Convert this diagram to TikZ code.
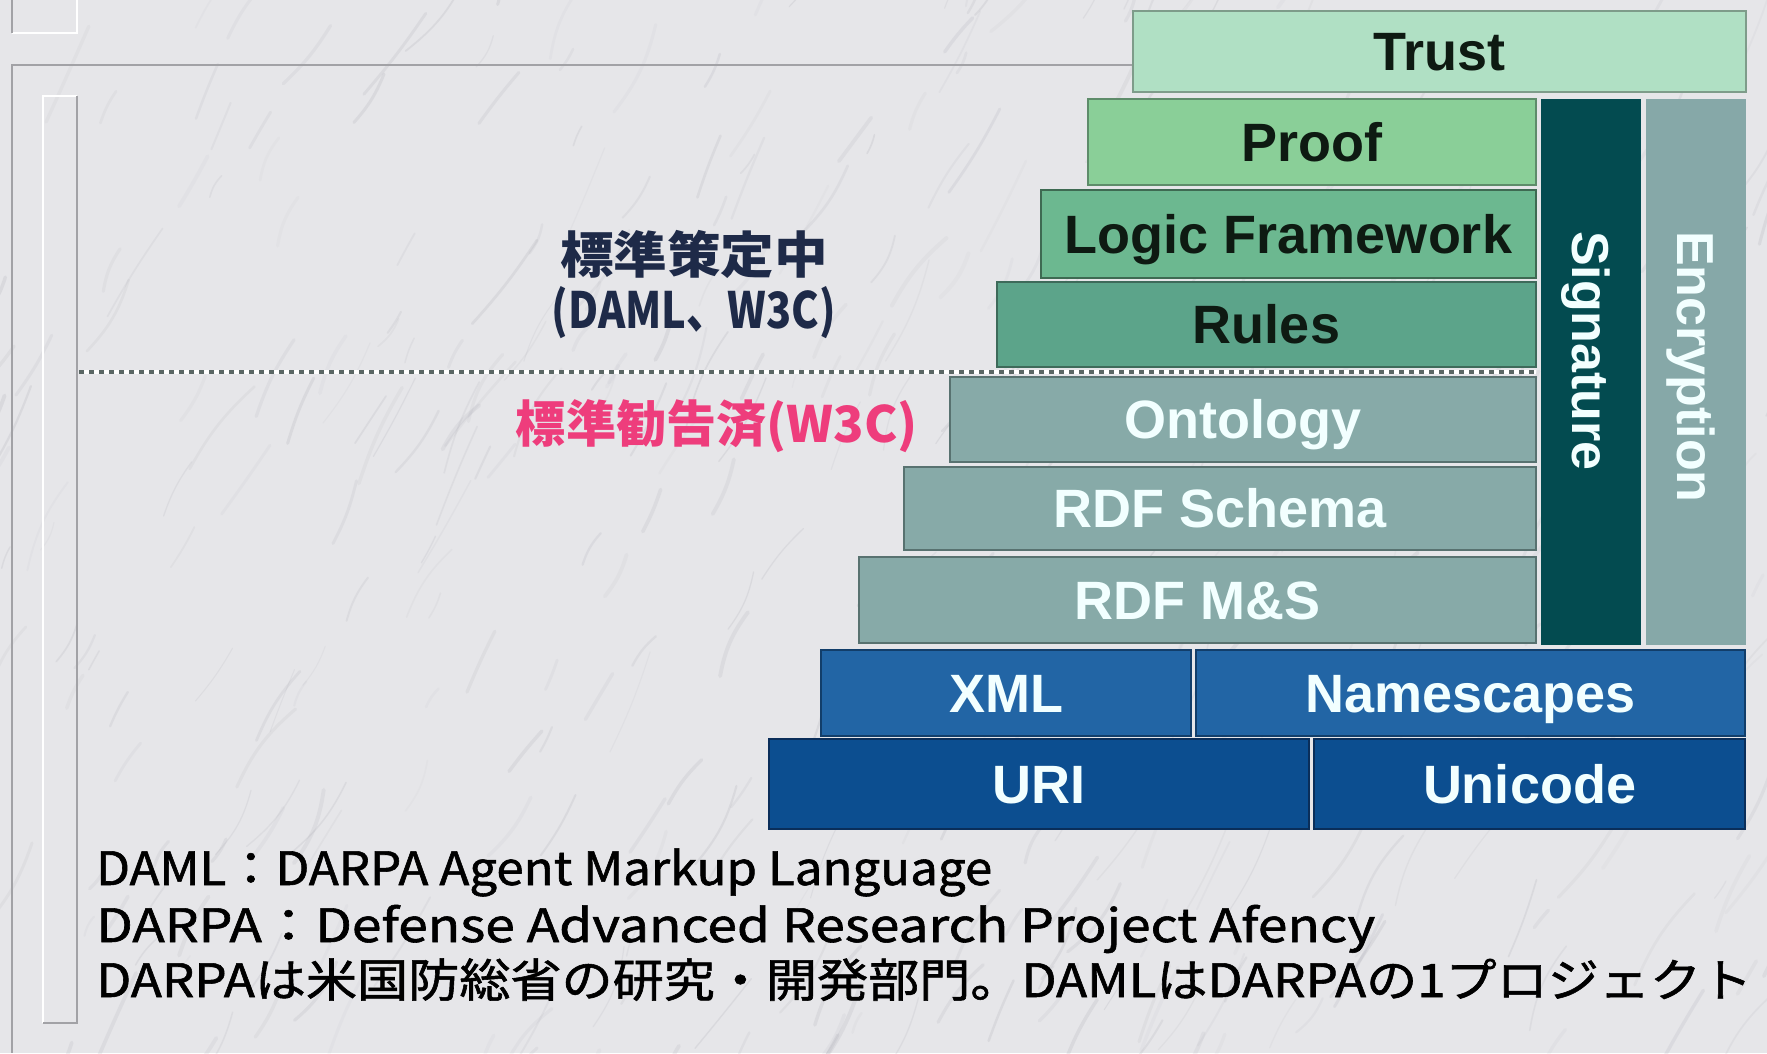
\documentclass[tikz,border=0pt]{standalone}
\usepackage{fontspec}
\usepackage{graphicx}
\setmainfont{Liberation Sans}
\newfontfamily\jp{Noto Sans CJK JP}
\newfontfamily\jpn{Noto Sans CJK JP}[FakeBold=1.2]
\definecolor{bg}{HTML}{E6E6E9}
\definecolor{vein}{HTML}{9C9CA6}
\definecolor{frameg}{HTML}{A2A2A6}
\definecolor{cTrust}{HTML}{B0E0C4}
\definecolor{bTrust}{HTML}{7E9C8A}
\definecolor{cProof}{HTML}{8ACF98}
\definecolor{bProof}{HTML}{5E8C6A}
\definecolor{cLogic}{HTML}{6CB890}
\definecolor{bLogic}{HTML}{3E6A52}
\definecolor{cRules}{HTML}{5CA48A}
\definecolor{bRules}{HTML}{3E6A5A}
\definecolor{cOnt}{HTML}{87AAA8}
\definecolor{bOnt}{HTML}{587270}
\definecolor{cSig}{HTML}{034B50}
\definecolor{cEnc}{HTML}{86A8A8}
\definecolor{cXml}{HTML}{2265A5}
\definecolor{bXml}{HTML}{123E6A}
\definecolor{cUri}{HTML}{0C4E90}
\definecolor{bUri}{HTML}{0A2E5A}
\definecolor{darktxt}{HTML}{0E1A12}
\definecolor{lighttxt}{HTML}{F2FFFF}
\definecolor{navy}{HTML}{1E2A48}
\definecolor{pink}{HTML}{EE3D7C}
\definecolor{dotc}{HTML}{5A6664}
\begin{document}
\begin{tikzpicture}[x=1pt,y=-1pt,
  blk/.style={draw, line width=2.5pt, inner sep=0pt, text height=38.7pt, text depth=0pt,
    font=\bfseries\fontsize{54}{60}\selectfont},
  upper/.style={blk, text=darktxt},
  lower/.style={blk, text=lighttxt},
  vbox/.style={draw=none, inner sep=0pt, inner xsep=132pt, text width=282pt, align=left,
    minimum height=100pt, rotate=-90, text height=37.2pt, text depth=0pt, text=lighttxt,
    font=\bfseries\fontsize{52}{58}\selectfont},
  jlab/.style={inner sep=0pt, font=\jp\bfseries\fontsize{50}{56}\selectfont},
  note/.style={anchor=base west, inner sep=0pt, text=black, font=\jpn\fontsize{46}{50}\selectfont}
]
\useasboundingbox (0,0) rectangle (1767,1053);
\fill[bg] (0,0) rectangle (1767,1053);
% marble veins
\pgfmathsetseed{42}
\foreach \i in {1,...,420}{
  \pgfmathsetmacro\xa{rnd*1850-40}
  \pgfmathsetmacro\ya{rnd*1100}
  \pgfmathsetmacro\len{20+rnd*90}
  \pgfmathsetmacro\ang{50+rnd*20}
  \pgfmathsetmacro\op{0.05+rnd*0.12}
  \pgfmathsetmacro\lw{1+rnd*3}
  \pgfmathsetmacro\bend{rnd*30-15}
  \draw[vein, opacity=\op, line width=\lw pt, line cap=round] (\xa,\ya) to[bend left=\bend] ++({\len*cos(\ang)},{-\len*sin(\ang)});
}
% frame lines
\draw[frameg, line width=2.2pt] (1133,65) -- (12,65) -- (12,1053);
\draw[white, line width=2pt] (12,33) -- (77,33) -- (77,0);
\draw[frameg, line width=2pt] (12,0) -- (12,33);
\draw[white, line width=2pt] (43,1023) -- (43,96) -- (77,96);
\draw[frameg, line width=2pt] (77,96) -- (77,1023) -- (43,1023);

% stack boxes
\node[upper, fill=cTrust, draw=bTrust, minimum width=613pt, minimum height=81pt] (trust) at (1439.5,51.5) {Trust};
\node[upper, fill=cProof, draw=bProof, minimum width=448pt, minimum height=86pt] (proof) at (1312,142) {Proof};
\node[upper, fill=cLogic, draw=bLogic, minimum width=495pt, minimum height=88pt] (logic) at (1288.5,234) {Logic Framework};
\node[upper, fill=cRules, draw=bRules, minimum width=539pt, minimum height=85pt] (rules) at (1266.5,324.5) {Rules};
\node[lower, fill=cOnt, draw=bOnt, minimum width=586pt, minimum height=85pt] (onto) at (1243,419.5) {Ontology};
\node[lower, fill=cOnt, draw=bOnt, minimum width=632pt, minimum height=83pt] (rdfs) at (1220,508.5) {RDF Schema};
\node[lower, fill=cOnt, draw=bOnt, minimum width=677pt, minimum height=86pt] (rdfms) at (1197.5,600) {RDF M\&S};
\node[lower, fill=cXml, draw=bXml, minimum width=370pt, minimum height=86pt] (xml) at (1006,693) {XML};
\node[lower, fill=cXml, draw=bXml, minimum width=549pt, minimum height=86pt] (ns) at (1470.5,693) {Namescapes};
\node[lower, fill=cUri, draw=bUri, minimum width=540pt, minimum height=90pt] (uri) at (1039,784) {URI};
\node[lower, fill=cUri, draw=bUri, minimum width=431pt, minimum height=90pt] (uni) at (1529.5,784) {Unicode};
\node[vbox, fill=cSig] (sig) at (1591,372) {Signature};
\node[vbox, fill=cEnc] (enc) at (1696,372) {Encryption};

% dotted divider
\coordinate (dl) at (79,372);
\coordinate (dr) at (1536,372);
\draw[white, line width=4pt] (dl) -- (dr);
\draw[dotc, line width=4pt, dash pattern=on 5pt off 5pt] (dl) -- (dr);

% labels
\node[jlab, text=navy] (lab1) at (694,254) {\resizebox{268pt}{\height}{標準策定中}};
\node[jlab, text=navy] (lab2) at (694,313) {\resizebox{284pt}{\height}{(DAML、W3C)}};
\node[jlab, text=pink] (lab3) at (717,426) {\resizebox{402pt}{\height}{標準勧告済(W3C)}};

% notes
\node[note] (n1) at (96,885) {\resizebox{896pt}{\height}{DAML：DARPA Agent Markup Language}};
\node[note] (n2) at (96,942) {\resizebox{1279pt}{\height}{DARPA：Defense Advanced Research Project Afency}};
\node[note] (n3) at (96,997) {\resizebox{1656pt}{\height}{DARPAは米国防総省の研究・開発部門。DAMLはDARPAの1プロジェクト}};
\end{tikzpicture}
\end{document}
